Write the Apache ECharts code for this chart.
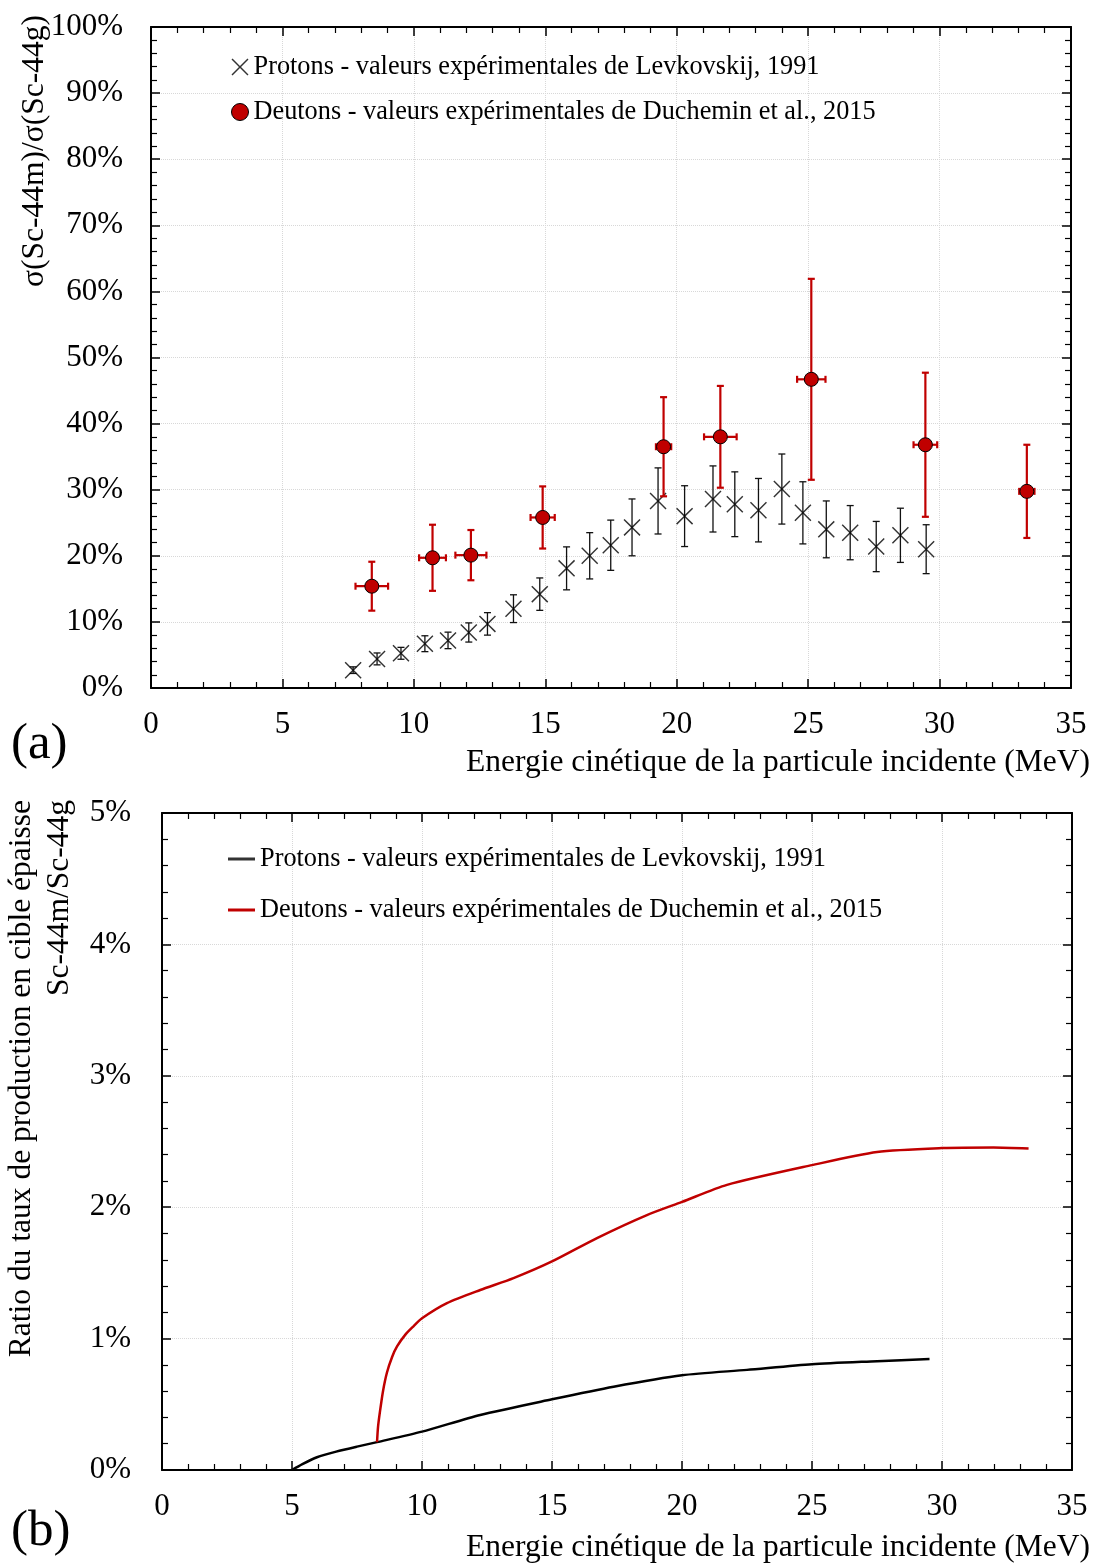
<!DOCTYPE html>
<html>
<head>
<meta charset="utf-8">
<script src="https://cdn.jsdelivr.net/npm/echarts@6/dist/echarts.min.js"></script>
<style>
html,body{margin:0;padding:0;background:#fff;}
#chart{width:1095px;height:1564px;}
</style>
</head>
<body>
<div id="chart"></div>
<script>
// ---------- DATA ----------
const nameP = 'Protons - valeurs expérimentales de Levkovskij, 1991';
const nameD = 'Deutons - valeurs expérimentales de Duchemin et al., 2015';

// (a) cross-section ratio (%)
const protonE   = [7.69, 8.60, 9.51, 10.42, 11.30, 12.09, 12.80, 13.79, 14.79, 15.81, 16.69, 17.49, 18.30, 19.29, 20.30, 21.38, 22.21, 23.11, 24.00, 24.80, 25.69, 26.60, 27.59, 28.51, 29.49];
const protonR   = [2.7, 4.4, 5.25, 6.7, 7.2, 8.4, 9.7, 12.0, 14.2, 18.1, 20.0, 21.6, 24.3, 28.3, 26.0, 28.6, 27.8, 26.9, 30.1, 26.5, 24.0, 23.5, 21.4, 23.1, 21.0];
const protonErr = [0.5, 0.9, 0.9, 1.2, 1.25, 1.45, 1.7, 2.1, 2.45, 3.25, 3.5, 3.8, 4.3, 5.0, 4.6, 5.0, 4.9, 4.8, 5.3, 4.7, 4.3, 4.1, 3.8, 4.1, 3.7];

const deutonE    = [8.40, 10.71, 12.17, 14.90, 19.50, 21.66, 25.12, 29.46, 33.32];
const deutonR    = [15.4, 19.7, 20.1, 25.8, 36.5, 38.0, 46.7, 36.8, 29.75];
const deutonErrR = [3.7, 5.0, 3.8, 4.7, 7.5, 7.7, 15.2, 10.9, 7.05];
const deutonErrE = [0.62, 0.51, 0.59, 0.46, 0.29, 0.62, 0.54, 0.45, 0.29];

// (b) thick-target yield ratio (%)
const protonYieldE = [5.0, 5.4, 5.96, 6.7, 7.5, 8.27, 10.0, 12.24, 15.0, 17.37, 20.0, 22.5, 25.0, 27.5, 29.52];
const protonYield  = [0, 0.045, 0.097, 0.14, 0.178, 0.212, 0.292, 0.419, 0.538, 0.634, 0.721, 0.762, 0.805, 0.828, 0.845];
const deutonYieldE = [8.27, 8.31, 8.38, 8.50, 8.65, 8.85, 9.04, 9.36, 9.68, 10.0, 10.96, 12.24, 13.52, 15.0, 16.73, 18.65, 20.0, 21.73, 25.0, 27.5, 30.0, 31.98, 33.33];
const deutonYield  = [0.212, 0.33, 0.44, 0.60, 0.74, 0.86, 0.94, 1.03, 1.095, 1.155, 1.27, 1.37, 1.46, 1.587, 1.765, 1.94, 2.04, 2.17, 2.32, 2.42, 2.45, 2.455, 2.447];

// tick labels
const xTicks = [0, 5, 10, 15, 20, 25, 30, 35];
const yTicksA = [0, 10, 20, 30, 40, 50, 60, 70, 80, 90, 100];
const yTicksB = [0, 1, 2, 3, 4, 5];

// ---------- STYLE ----------
const FONT = '"Liberation Serif", "Times New Roman", serif';
const RED = '#c00000';
const GRIDC = '#d8d8d8';
const XPATH = 'path://M0,1.2L1.2,0L10,8.8L18.8,0L20,1.2L11.2,10L20,18.8L18.8,20L10,11.2L1.2,20L0,18.8L8.8,10Z';

function pairs(a, b) { return a.map((v, i) => [v, b[i]]); }

function errRender(color, lw, cap) {
  return function (params, api) {
    const x = api.value(0), y = api.value(1), e = api.value(2), ex = api.value(3);
    const c = api.coord([x, y]);
    const t = api.coord([x, y + e]);
    const b = api.coord([x, y - e]);
    const st = { stroke: color, lineWidth: lw, fill: null };
    const ch = [
      { type: 'line', shape: { x1: c[0], y1: t[1], x2: c[0], y2: b[1] }, style: st },
      { type: 'line', shape: { x1: c[0] - cap, y1: t[1], x2: c[0] + cap, y2: t[1] }, style: st },
      { type: 'line', shape: { x1: c[0] - cap, y1: b[1], x2: c[0] + cap, y2: b[1] }, style: st }
    ];
    if (ex) {
      const l = api.coord([x - ex, y]);
      const r = api.coord([x + ex, y]);
      ch.push({ type: 'line', shape: { x1: l[0], y1: c[1], x2: r[0], y2: c[1] }, style: st });
      ch.push({ type: 'line', shape: { x1: l[0], y1: c[1] - cap, x2: l[0], y2: c[1] + cap }, style: st });
      ch.push({ type: 'line', shape: { x1: r[0], y1: c[1] - cap, x2: r[0], y2: c[1] + cap }, style: st });
    }
    return { type: 'group', children: ch };
  };
}

function xAx(gridIndex, pos, labels) {
  return {
    type: 'value', gridIndex: gridIndex, position: pos,
    min: xTicks[0], max: xTicks[xTicks.length - 1], interval: 5,
    axisLine: { show: true, onZero: false, lineStyle: { color: '#000', width: 2 } },
    axisTick: { show: true, inside: true, length: 9, lineStyle: { color: '#000', width: 1.5 } },
    minorTick: { show: true, splitNumber: 5, length: 6, lineStyle: { color: '#000', width: 1.2 } },
    axisLabel: { show: labels, margin: 21, color: '#000', fontFamily: FONT, fontSize: 31 },
    splitLine: { show: labels, lineStyle: { color: GRIDC, type: 'dotted', width: 1 } }
  };
}
function yAx(gridIndex, pos, labels, max, interval, margin) {
  return {
    type: 'value', gridIndex: gridIndex, position: pos,
    min: 0, max: max, interval: interval,
    axisLine: { show: true, onZero: false, lineStyle: { color: '#000', width: 2 } },
    axisTick: { show: true, inside: true, length: 9, lineStyle: { color: '#000', width: 1.5 } },
    minorTick: { show: true, splitNumber: 5, length: 6, lineStyle: { color: '#000', width: 1.2 } },
    axisLabel: { show: labels, margin: margin, color: '#000', fontFamily: FONT, fontSize: 31, formatter: '{value}%' },
    splitLine: { show: labels, lineStyle: { color: GRIDC, type: 'dotted', width: 1 } }
  };
}

const chart = echarts.init(document.getElementById('chart'), null, { renderer: 'canvas' });

const option = {
  backgroundColor: '#fff',
  animation: false,
  textStyle: { fontFamily: FONT },
  grid: [
    { left: 151, top: 27, width: 920, height: 661, containLabel: false },
    { left: 162, top: 813, width: 910, height: 657, containLabel: false }
  ],
  xAxis: [xAx(0, 'bottom', true), xAx(0, 'top', false), xAx(1, 'bottom', true), xAx(1, 'top', false)],
  yAxis: [
    yAx(0, 'left', true, yTicksA[yTicksA.length - 1], 10, 28),
    yAx(0, 'right', false, yTicksA[yTicksA.length - 1], 10, 28),
    yAx(1, 'left', true, yTicksB[yTicksB.length - 1], 1, 31),
    yAx(1, 'right', false, yTicksB[yTicksB.length - 1], 1, 31)
  ],
  legend: [
    {
      orient: 'vertical', left: 226, top: 49, itemGap: 19, itemWidth: 17, itemHeight: 17,
      textStyle: { fontFamily: FONT, fontSize: 26.3, color: '#000' },
      selectedMode: false,
      data: [
        { name: nameP, icon: XPATH, itemStyle: { color: '#000', borderWidth: 0 } },
        { name: nameD, icon: 'circle', itemStyle: { color: RED, borderColor: '#000', borderWidth: 1 } }
      ]
    },
    {
      orient: 'vertical', left: 223, top: 841, itemGap: 25, itemWidth: 27, itemHeight: 3,
      textStyle: { fontFamily: FONT, fontSize: 26.3, color: '#000' },
      selectedMode: false,
      data: [
        { name: nameP, icon: 'rect', itemStyle: { color: '#000', borderWidth: 0 } },
        { name: nameD, icon: 'rect', itemStyle: { color: RED, borderWidth: 0 } }
      ]
    }
  ],
  graphic: [
    { type: 'text', x: 35, y: 15, rotation: Math.PI / 2,
      style: { text: 'σ(Sc-44m)/σ(Sc-44g)', fontFamily: FONT, fontSize: 31.5, fill: '#000', align: 'right', verticalAlign: 'middle' } },
    { type: 'text', x: 41, y: 800, rotation: Math.PI / 2,
      style: { text: 'Ratio du taux de production en cible épaisse\nSc-44m/Sc-44g', fontFamily: FONT, fontSize: 31.5, lineHeight: 38, fill: '#000', align: 'right', verticalAlign: 'middle' } },
    { type: 'text', x: 1090, y: 763,
      style: { text: 'Energie cinétique de la particule incidente (MeV)', fontFamily: FONT, fontSize: 31.5, fill: '#000', align: 'right', verticalAlign: 'middle' } },
    { type: 'text', x: 1090, y: 1548,
      style: { text: 'Energie cinétique de la particule incidente (MeV)', fontFamily: FONT, fontSize: 31.5, fill: '#000', align: 'right', verticalAlign: 'middle' } },
    { type: 'text', x: 11, y: 745,
      style: { text: '(a)', fontFamily: FONT, fontSize: 51, fill: '#000', align: 'left', verticalAlign: 'middle' } },
    { type: 'text', x: 11, y: 1532,
      style: { text: '(b)', fontFamily: FONT, fontSize: 51, fill: '#000', align: 'left', verticalAlign: 'middle' } }
  ],
  series: [
    {
      name: nameP + ' err', type: 'custom', xAxisIndex: 0, yAxisIndex: 0,
      renderItem: errRender('#111', 1.3, 3.5),
      encode: { x: 0, y: 1 },
      data: protonE.map((v, i) => [v, protonR[i], protonErr[i], 0]),
      z: 2
    },
    {
      name: nameP, type: 'scatter', xAxisIndex: 0, yAxisIndex: 0,
      symbol: XPATH, symbolSize: 17,
      itemStyle: { color: '#000' },
      data: pairs(protonE, protonR),
      z: 3
    },
    {
      name: nameD + ' err', type: 'custom', xAxisIndex: 0, yAxisIndex: 0,
      renderItem: errRender(RED, 2.2, 3.5),
      encode: { x: 0, y: 1 },
      data: deutonE.map((v, i) => [v, deutonR[i], deutonErrR[i], deutonErrE[i]]),
      z: 4
    },
    {
      name: nameD, type: 'scatter', xAxisIndex: 0, yAxisIndex: 0,
      symbol: 'circle', symbolSize: 14,
      itemStyle: { color: RED, borderColor: '#000', borderWidth: 1, opacity: 1 },
      data: pairs(deutonE, deutonR),
      z: 5
    },
    {
      name: nameP, type: 'line', xAxisIndex: 2, yAxisIndex: 2,
      showSymbol: false, symbol: 'none', smooth: 0.25,
      lineStyle: { color: '#000', width: 2.5 },
      itemStyle: { color: '#000' },
      data: pairs(protonYieldE, protonYield),
      z: 3
    },
    {
      name: nameD, type: 'line', xAxisIndex: 2, yAxisIndex: 2,
      showSymbol: false, symbol: 'none', smooth: 0.25,
      lineStyle: { color: RED, width: 2.5 },
      itemStyle: { color: RED },
      data: pairs(deutonYieldE, deutonYield),
      z: 3
    }
  ]
};

chart.setOption(option);
</script>
</body>
</html>
